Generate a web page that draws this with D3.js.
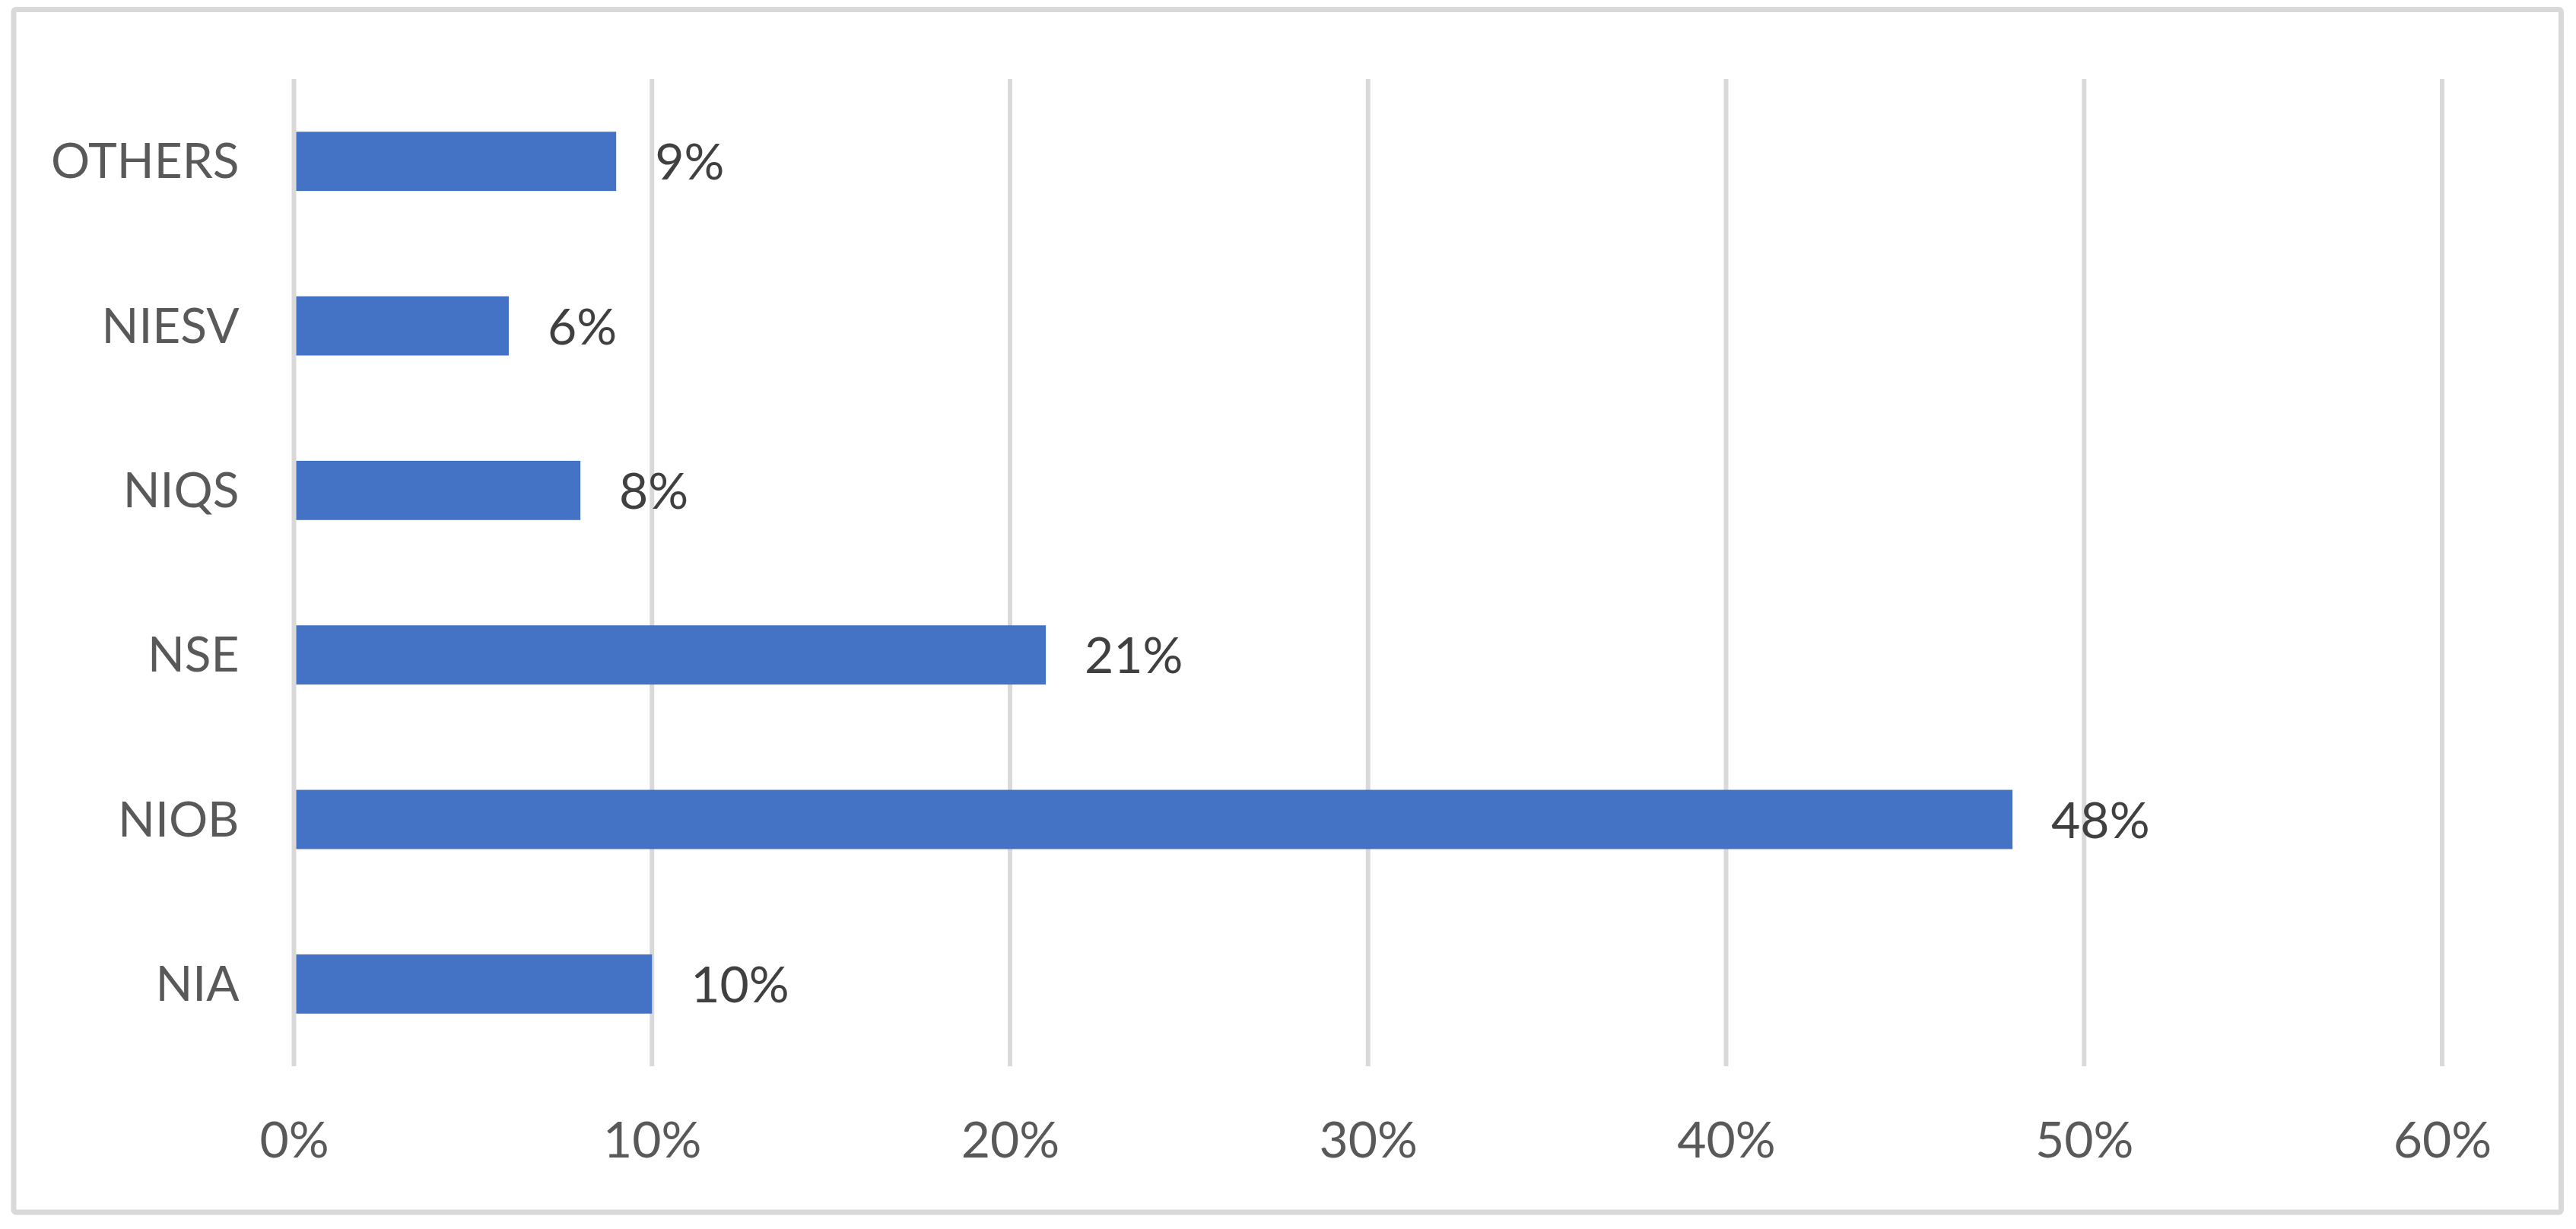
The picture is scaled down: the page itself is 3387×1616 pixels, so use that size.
<!DOCTYPE html>
<html>
<head>
<meta charset="utf-8">
<script src="https://cdn.jsdelivr.net/npm/d3@7"></script>
<style>
  html, body { margin: 0; padding: 0; background: #ffffff; }
  svg { display: block; }
</style>
</head>
<body>
<script>
// ---- data ----
const categories = ["OTHERS", "NIESV", "NIQS", "NSE", "NIOB", "NIA"];
const values = [0.09, 0.06, 0.08, 0.21, 0.48, 0.10];
const tickValues = [0, 0.1, 0.2, 0.3, 0.4, 0.5, 0.6];
const tickLabels = ["0%", "10%", "20%", "30%", "40%", "50%", "60%"];
const valueLabels = ["9%", "6%", "8%", "21%", "48%", "10%"];

// ---- layout ----
const W = 3387, H = 1616;
const plot = { left: 386.5, right: 3211, top: 104, bottom: 1402 };
const font = "Lato, 'Open Sans', 'DejaVu Sans', sans-serif";

const svg = d3.select("body").append("svg")
  .attr("width", W).attr("height", H);

// chart frame
svg.append("rect")
  .attr("x", 18).attr("y", 12.5)
  .attr("width", 3349.5).attr("height", 1581.5)
  .attr("rx", 3)
  .attr("fill", "#ffffff")
  .attr("stroke", "#d9d9d9")
  .attr("stroke-width", 7);

const x = d3.scaleLinear().domain([0, 0.6]).range([plot.left, plot.right]);
const y = d3.scaleBand().domain(categories)
  .range([plot.top, plot.bottom])
  .paddingInner(0.64).paddingOuter(0.32);

// gridlines
svg.append("g").selectAll("line")
  .data(tickValues).join("line")
  .attr("x1", d => x(d)).attr("x2", d => x(d))
  .attr("y1", plot.top).attr("y2", plot.bottom)
  .attr("stroke", "#d9d9d9")
  .attr("stroke-width", 6);

// bars
svg.append("g").selectAll("rect")
  .data(categories).join("rect")
  .attr("x", x(0) + 3)
  .attr("y", d => y(d))
  .attr("width", (d, i) => x(values[i]) - x(0) - 3)
  .attr("height", y.bandwidth())
  .attr("fill", "#4472c4");

// value labels
svg.append("g").selectAll("text")
  .data(categories).join("text")
  .attr("x", (d, i) => x(values[i]) + 51)
  .attr("y", d => y(d) + y.bandwidth() / 2 + 24)
  .attr("font-family", font)
  .attr("font-size", 66)
  .attr("fill", "#404040")
  .text((d, i) => valueLabels[i]);

// category axis labels
const yAxis = d3.axisLeft(y).tickSize(0).tickPadding(0);
const gy = svg.append("g")
  .attr("transform", `translate(${x(0) - 72},0)`)
  .call(yAxis);
gy.select(".domain").remove();
gy.selectAll("text")
  .attr("font-family", font)
  .attr("font-size", 64)
  .attr("fill", "#595959")
  .attr("dy", null)
  .attr("y", 22)
  .attr("text-anchor", "end");

// value axis labels
const xAxis = d3.axisBottom(x).tickValues(tickValues)
  .tickFormat((d, i) => tickLabels[i]).tickSize(0).tickPadding(0);
const gx = svg.append("g")
  .attr("transform", `translate(0,1522)`)
  .call(xAxis);
gx.select(".domain").remove();
gx.selectAll("text")
  .attr("font-family", font)
  .attr("font-size", 66)
  .attr("fill", "#595959")
  .attr("dy", null)
  .attr("y", 0)
  .attr("text-anchor", "middle");
</script>
</body>
</html>
